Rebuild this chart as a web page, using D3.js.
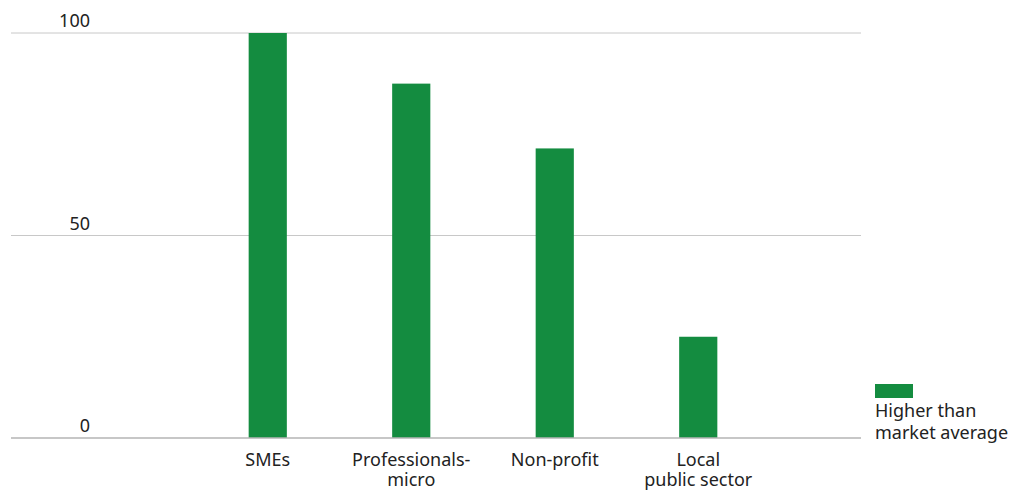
<!DOCTYPE html>
<html>
<head>
<meta charset="utf-8">
<script src="https://cdn.jsdelivr.net/npm/d3@7"></script>
<style>
	body { margin: 0; background: #fff; }
	svg text { font-family: "Noto Sans", sans-serif; fill: #222; }
</style>
</head>
<body>
<div id="chart"></div>
<script>
// Chart data
var categories = [['SMEs'], ['Professionals-', 'micro'], ['Non-profit'], ['Local', 'public sector']];
var values = [100, 87.5, 71.5, 25];
var ticks = [0, 50, 100];
var seriesName = ['Higher than', 'market average'];

var width = 1016, height = 491;
var svg = d3.select('#chart').append('svg')
	.attr('width', width).attr('height', height);

// Scales
var x = d3.scaleBand().domain(d3.range(categories.length))
	.range([196, 770]).paddingInner(0.734).paddingOuter(0.367);
var y = d3.scaleLinear().domain([0, 100]).range([438, 33]);

// Gridlines
svg.selectAll('line.grid').data(ticks.filter(t => t > 0)).enter().append('line')
	.attr('x1', 11).attr('x2', 861)
	.attr('y1', d => y(d)).attr('y2', d => y(d))
	.style('stroke', '#c8c8c8').style('stroke-width', 1);

// Tick labels sit above their gridline
svg.selectAll('text.tick').data(ticks).enter().append('text')
	.attr('x', 90).attr('y', d => y(d) - 6)
	.attr('text-anchor', 'end').style('font-size', '18px')
	.text(d => d);

// Bars
svg.selectAll('rect.bar').data(values).enter().append('rect')
	.attr('x', (d, i) => x(i)).attr('width', x.bandwidth())
	.attr('y', d => y(d)).attr('height', d => y(0) - y(d))
	.style('fill', '#148c40');

// Baseline
svg.append('line')
	.attr('x1', 11).attr('x2', 861).attr('y1', y(0)).attr('y2', y(0))
	.style('stroke', '#b4b4b4').style('stroke-width', 1.5);

// Category labels, one text per line
categories.forEach(function(lines, i) {
	lines.forEach(function(s, j) {
		svg.append('text')
			.attr('x', x(i) + x.bandwidth() / 2).attr('y', 466 + j * 20)
			.attr('text-anchor', 'middle').style('font-size', '18px')
			.text(s);
	});
});

// Legend
svg.append('rect').attr('x', 875).attr('y', 384).attr('width', 38).attr('height', 14)
	.style('fill', '#148c40');
seriesName.forEach(function(s, j) {
	svg.append('text').attr('x', 875).attr('y', 417 + j * 22)
		.style('font-size', '18px').text(s);
});
</script>
</body>
</html>
